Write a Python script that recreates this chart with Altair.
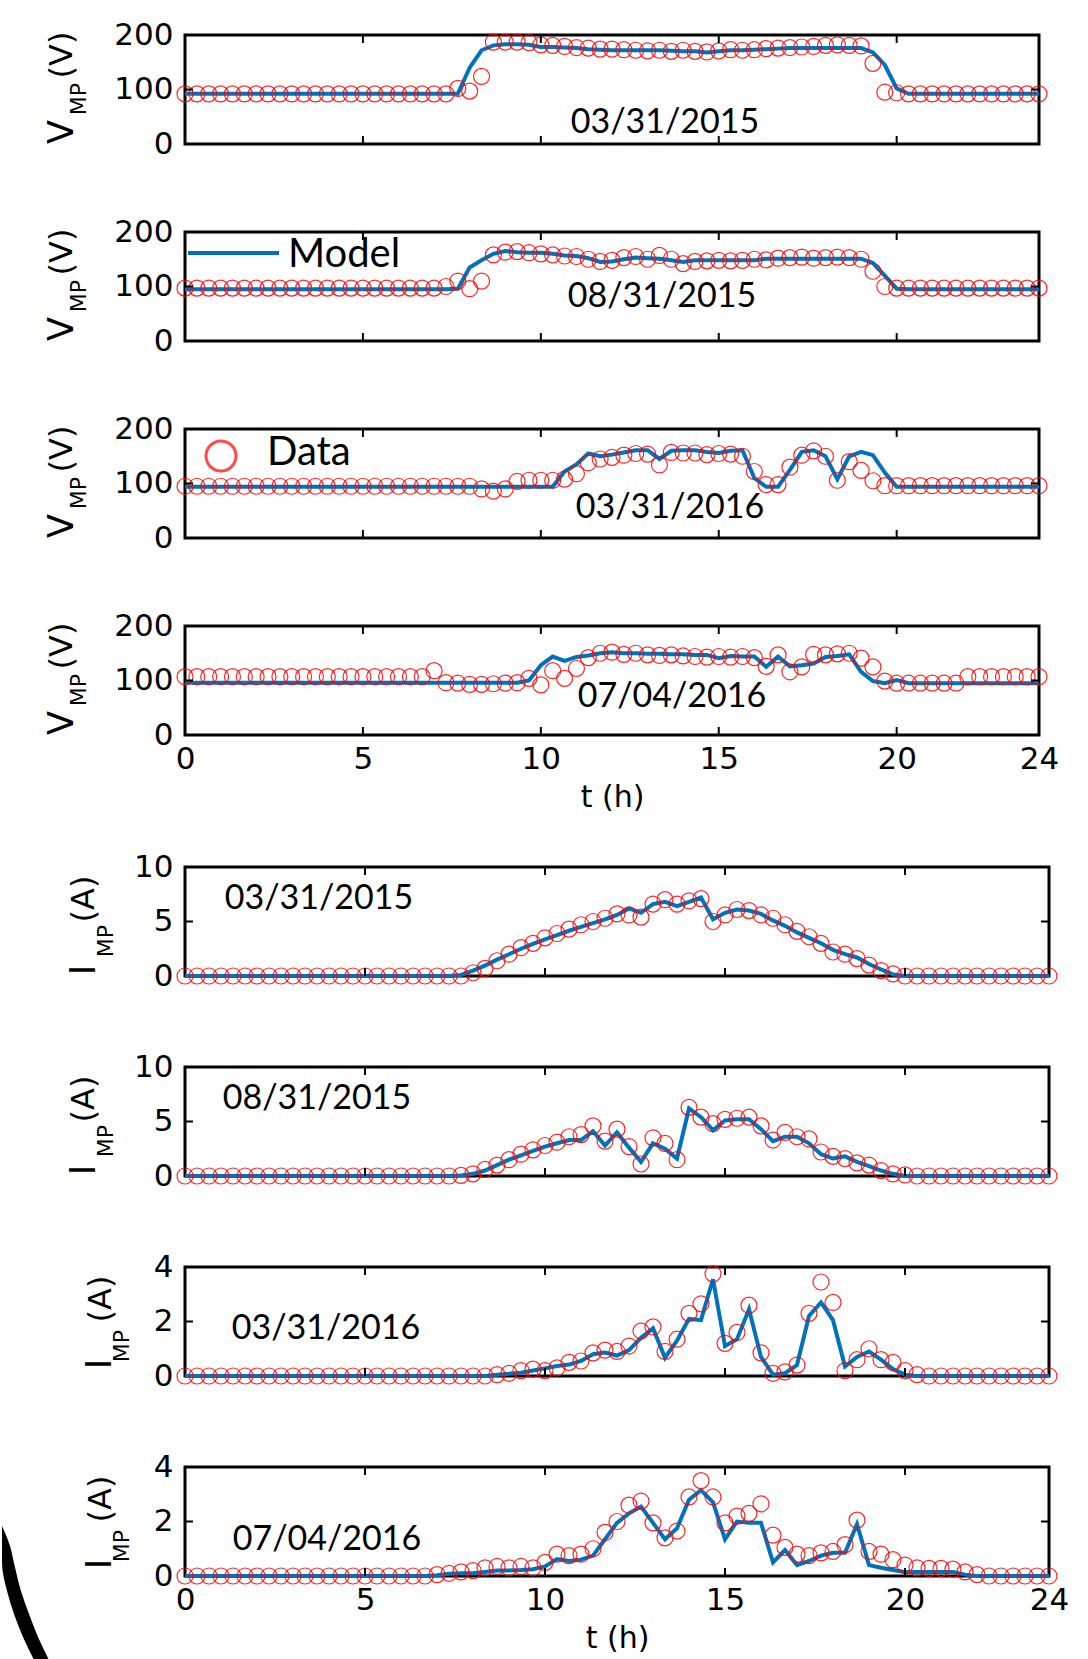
import altair as alt
import pandas as pd

# ---------------- data ----------------
hours = [round(i / 3, 4) for i in range(73)]          # 20-min samples, 0..24 h
x_labels = [0, 5, 10, 15, 20, 24]
x_inner = [5, 10, 15, 20]
dates = ["03/31/2015", "08/31/2015", "03/31/2016", "07/04/2016"]

V1_model = [92]*24 + [140, 172, 181, 183, 183, 182, 178, 178, 177, 176, 174, 173, 172, 172,
                      172, 172, 172, 171, 170, 170, 168, 170, 172, 172, 173, 174, 175, 176] + [176]*6 + [168, 145, 102] + [92]*12
V1_data = [92]*23 + [102, 97, 124, 187, 187, 187, 186, 182, 181, 179, 177, 176, 174, 174, 173, 172, 171, 172, 170,
                     172, 170, 169, 171, 173, 172, 173, 175, 176, 177, 178, 179, 181, 182, 181, 180, 148, 95, 94] + [92]*12

V2_model = [95]*23 + [96, 135, 148, 160, 165, 163, 162, 162, 160, 157, 156, 152, 145, 146, 150, 153, 152, 151, 148,
                      145, 148, 148, 148, 148, 148, 148, 151, 151, 151, 151, 151, 151, 151, 151, 151, 143, 120, 96] + [95]*12
V2_data = [97]*22 + [100, 110, 96, 110, 158, 163, 164, 162, 160, 158, 156, 155, 150, 146, 148, 153, 155, 150, 157, 150,
                     142, 146, 147, 148, 147, 148, 150, 149, 152, 153, 154, 152, 153, 154, 153, 150, 128, 100, 97] + [97]*12

V3_model = [94]*32 + [122, 135, 155, 150, 153, 157, 161, 161, 145, 160, 161, 161, 158, 156, 160, 161, 110, 94, 94,
                      125, 158, 161, 150, 108, 150, 158, 152, 120] + [94]*13
V3_data = [95]*25 + [90, 86, 90, 104, 106, 106, 106, 108, 118, 138, 145, 148, 152, 155, 154, 134, 157, 156, 156, 153,
                     155, 154, 150, 122, 98, 98, 130, 152, 160, 150, 106, 140, 124, 105, 96] + [96]*13

V4_model = [96]*29 + [100, 128, 144, 136, 143, 146, 150, 152, 150, 150, 149, 149, 148, 148, 147, 147, 141, 145, 144,
                      144, 125, 144, 126, 128, 131, 143, 145, 148, 116, 99, 95, 101] + [95]*12
V4_data = [107]*21 + [118, 96, 95, 93, 93, 94, 95, 96, 104, 92, 118, 104, 122, 142, 150, 152, 148, 150, 147, 146, 147,
                      145, 144, 143, 144, 143, 144, 142, 126, 147, 116, 125, 148, 147, 149, 150, 141, 125, 99] + [95]*6 + [107]*7

I1_model = [0]*23 + [0.1, 0.5, 0.95, 1.5, 2.0, 2.5, 2.95, 3.35, 3.75, 4.15, 4.5, 4.85, 5.2, 5.6, 6.2, 5.8, 6.6, 6.8,
                     6.4, 6.8, 7.2, 5.2, 5.8, 6.1, 6.0, 5.7, 5.1, 4.6, 4.0, 3.5, 3.0, 2.4, 2.0, 1.7, 1.1, 0.6, 0.15] + [0]*13
I1_data = [0]*24 + [0.3, 0.7, 1.4, 2.0, 2.6, 3.0, 3.5, 3.9, 4.3, 4.7, 5.0, 5.3, 5.7, 5.6, 5.4, 6.6, 7.0, 6.6, 6.9,
                    7.1, 5.0, 5.6, 6.1, 6.0, 5.6, 5.3, 4.7, 4.1, 3.6, 3.0, 2.2, 2.0, 1.6, 1.0, 0.5, 0.2] + [0]*13

I2_model = [0]*23 + [0.05, 0.2, 0.5, 1.0, 1.5, 1.9, 2.3, 2.7, 3.0, 3.3, 3.3, 4.1, 2.8, 4.0, 2.6, 1.3, 3.0, 2.5, 1.6,
                     6.2, 5.4, 4.2, 5.1, 5.2, 5.2, 4.3, 3.2, 3.6, 3.6, 3.0, 2.0, 1.6, 1.8, 1.3, 0.9, 0.5, 0.2] + [0]*13
I2_data = [0]*23 + [0.05, 0.2, 0.6, 1.0, 1.5, 2.0, 2.4, 2.8, 3.1, 3.6, 3.8, 4.6, 3.2, 4.3, 2.7, 1.1, 3.5, 3.0, 1.5,
                    6.3, 5.4, 4.8, 5.2, 5.3, 5.4, 4.6, 3.3, 4.0, 3.6, 3.4, 2.2, 1.8, 1.6, 1.2, 1.0, 0.5, 0.2, 0.1] + [0]*12

I3_model = [0]*26 + [0.05, 0.08, 0.12, 0.2, 0.28, 0.37, 0.42, 0.55, 0.8, 0.86, 0.75, 0.95, 1.4, 1.75, 0.67, 1.3,
                     2.1, 2.05, 3.55, 1.1, 1.35, 2.45, 0.7, 0.05, 0.1, 0.4, 2.2, 2.7, 2.05, 0.35, 0.7, 0.9, 0.6,
                     0.25, 0.05] + [0]*12
I3_data = [0]*26 + [0.05, 0.1, 0.2, 0.25, 0.2, 0.3, 0.5, 0.55, 0.85, 0.95, 0.9, 1.1, 1.65, 1.8, 0.9, 1.35, 2.3,
                    2.65, 3.75, 1.2, 1.6, 2.6, 0.85, 0.1, 0.15, 0.4, 2.3, 3.45, 2.7, 0.2, 0.6, 1.0, 0.6, 0.5, 0.2,
                    0.05] + [0]*11

I4_model = [0]*21 + [0.03, 0.08, 0.1, 0.1, 0.15, 0.2, 0.2, 0.22, 0.25, 0.35, 0.62, 0.55, 0.6, 0.75, 1.35, 1.95, 2.3,
                     2.55, 1.95, 1.35, 1.75, 2.8, 3.15, 2.7, 1.35, 2.0, 1.95, 1.95, 0.5, 0.95, 0.4, 0.55, 0.75, 0.85,
                     0.85, 1.9, 0.4, 0.3, 0.22, 0.15, 0.15, 0.15, 0.15, 0.15, 0.05] + [0]*7
I4_data = [0]*21 + [0.05, 0.1, 0.15, 0.2, 0.3, 0.35, 0.3, 0.35, 0.3, 0.5, 0.8, 0.75, 0.8, 1.0, 1.6, 2.0, 2.6, 2.75,
                    1.95, 1.4, 1.65, 2.9, 3.5, 2.9, 1.95, 2.2, 2.3, 2.65, 1.5, 1.05, 0.8, 0.75, 0.85, 0.9, 1.15, 2.05,
                    0.9, 0.8, 0.6, 0.4, 0.3, 0.28, 0.28, 0.25, 0.15, 0.05] + [0]*6

# black decorative arc (a thick band) at the lower-left corner, in the last panel's (t, I) units
arc_v = [1.835, 1.101, 0.477, -0.550, -1.394, -2.239, -3.083]
arc_left = [-5.083, -5.083, -5.083, -4.944, -4.75, -4.5, -4.194]
arc_right = [-5.083, -4.861, -4.75, -4.556, -4.333, -4.083, -3.778]

# ---------------- style ----------------
BLUE = "#0072BD"
RED = "#FF0000"
TICKFONT = "DejaVu Sans"
DATEFONT = "Lato"
VW, IW, H = 854, 864, 109


def text_layer(s, x, y, size, font, angle=0, align="center", baseline="middle"):
    kw = dict(font=font, fontSize=size, align=align, baseline=baseline, color="black")
    if angle:
        kw["angle"] = angle
    return alt.Chart(pd.DataFrame({"s": [s]})).mark_text(**kw).encode(
        x=alt.value(x), y=alt.value(y), text="s:N")


def panel(model, data, ymax, ymid, yvals, width, date, date_xy, show_x, title_parts, extra=()):
    df = pd.DataFrame({"t": hours, "model": model, "data": data})
    xs = alt.Scale(domain=[0, 24], nice=False, zero=False)
    ys = alt.Scale(domain=[0, ymax], nice=False, zero=True)
    if show_x:
        xaxis = alt.Axis(values=x_labels, ticks=False, tickSize=0, domain=False, grid=False,
                         labelFont=TICKFONT, labelFontSize=31, labelPadding=9, labelColor="black",
                         labelFlush=False, title="t (h)", titleFont=TICKFONT, titleFontSize=30,
                         titleFontWeight="normal", titleColor="black", titlePadding=8)
    else:
        xaxis = None
    yaxis = alt.Axis(values=yvals, ticks=False, tickSize=0, domain=False, grid=False,
                     labelFont=TICKFONT, labelFontSize=31, labelPadding=12, labelColor="black",
                     title=None)
    X = alt.X("t:Q", scale=xs, axis=xaxis)
    line = alt.Chart(df).mark_line(color=BLUE, strokeWidth=4).encode(
        x=X, y=alt.Y("model:Q", scale=ys, axis=yaxis))
    pts = alt.Chart(df).mark_point(shape="circle", filled=False, color=RED, size=256,
                                   strokeWidth=1.2, opacity=0.85).encode(
        x=X, y=alt.Y("data:Q", scale=ys, axis=yaxis))
    tdf = pd.DataFrame({"tx": x_inner})
    TX = alt.X("tx:Q", scale=xs, axis=xaxis)
    top_t = alt.Chart(tdf).mark_rule(color="black", strokeWidth=2).encode(
        x=TX, y=alt.value(0), y2=alt.value(8))
    bot_t = alt.Chart(tdf).mark_rule(color="black", strokeWidth=2).encode(
        x=TX, y=alt.value(H), y2=alt.value(H - 8))
    ydf = pd.DataFrame({"ty": [ymid]})
    TY = alt.Y("ty:Q", scale=ys, axis=yaxis)
    left_t = alt.Chart(ydf).mark_rule(color="black", strokeWidth=2).encode(
        y=TY, x=alt.value(0), x2=alt.value(8))
    right_t = alt.Chart(ydf).mark_rule(color="black", strokeWidth=2).encode(
        y=TY, x=alt.value(width), x2=alt.value(width - 8))
    lab = text_layer(date, date_xy[0], date_xy[1], 34, DATEFONT)
    titles = [text_layer(s, x, y, sz, TICKFONT, angle=270) for (s, x, y, sz) in title_parts]
    extras = [e(xs, ys, xaxis, yaxis) if callable(e) else e for e in extra]
    layers = [line, pts, top_t, bot_t, left_t, right_t, lab] + titles + extras
    return alt.layer(*layers).properties(width=width, height=H)


def spacer(h):
    return alt.Chart(pd.DataFrame({"a": [0]})).mark_point(opacity=0).encode(
        x=alt.value(0), y=alt.value(0)).properties(width=10, height=h,
                                                 view=alt.ViewBackground(strokeWidth=0, stroke="transparent"))


def arc_layer(xs, ys, xaxis, yaxis):
    adf = pd.DataFrame({"av": arc_v, "al": arc_left, "ar": arc_right})
    return alt.Chart(adf).mark_area(color="black", orient="horizontal", interpolate="monotone").encode(
        y=alt.Y("av:Q", scale=ys, axis=yaxis),
        x=alt.X("al:Q", scale=xs, axis=xaxis), x2="ar:Q")


v_title = [("V", -123, 97, 35), ("MP", -106, 64, 22), ("(V)", -123, 20, 32)]
i_title_a = [("I", -101, 103, 35), ("MP", -79, 74, 22), ("(A)", -101, 32, 32)]
i_title_b = [("I", -85, 97, 35), ("MP", -63, 79, 22), ("(A)", -84, 32, 32)]

legend_model = [
    alt.Chart(pd.DataFrame({"a": [0]})).mark_rule(color=BLUE, strokeWidth=4).encode(
        x=alt.value(3), x2=alt.value(94), y=alt.value(21)),
    text_layer("Model", 103, 23, 40, DATEFONT, align="left"),
]
legend_data = [
    alt.Chart(pd.DataFrame({"a": [0]})).mark_point(shape="circle", filled=False, color=RED, size=900,
                                                    strokeWidth=3).encode(x=alt.value(36), y=alt.value(27)),
    text_layer("Data", 82, 24, 40, DATEFONT, align="left"),
]

V1 = panel(V1_model, V1_data, 200, 100, [0, 100, 200], VW, dates[0], (480, 88), False, v_title)
V2 = panel(V2_model, V2_data, 200, 100, [0, 100, 200], VW, dates[1], (477, 65), False, v_title, legend_model)
V3 = panel(V3_model, V3_data, 200, 100, [0, 100, 200], VW, dates[2], (485, 79), False, v_title, legend_data)
V4 = panel(V4_model, V4_data, 200, 100, [0, 100, 200], VW, dates[3], (487, 71), True, v_title)
I1 = panel(I1_model, I1_data, 10, 5, [0, 5, 10], IW, dates[0], (134, 32), False, i_title_a)
I2 = panel(I2_model, I2_data, 10, 5, [0, 5, 10], IW, dates[1], (132, 32), False, i_title_a)
I3 = panel(I3_model, I3_data, 4, 2, [0, 2, 4], IW, dates[2], (141, 62), False, i_title_b)
I4 = panel(I4_model, I4_data, 4, 2, [0, 2, 4], IW, dates[3], (142, 73), True, i_title_b, [arc_layer])

chart = alt.vconcat(
    V1, spacer(2), V2, spacer(2), V3, spacer(2), V4, spacer(46),
    I1, spacer(5), I2, spacer(5), I3, spacer(5), I4,
    spacing=43, bounds="flush"
).configure_view(stroke="black", strokeWidth=3).properties(
    padding={"left": 0, "top": 17, "right": 5, "bottom": 0}, background="white")

chart.save("out.html", embed_options={"renderer": "svg", "actions": False})
